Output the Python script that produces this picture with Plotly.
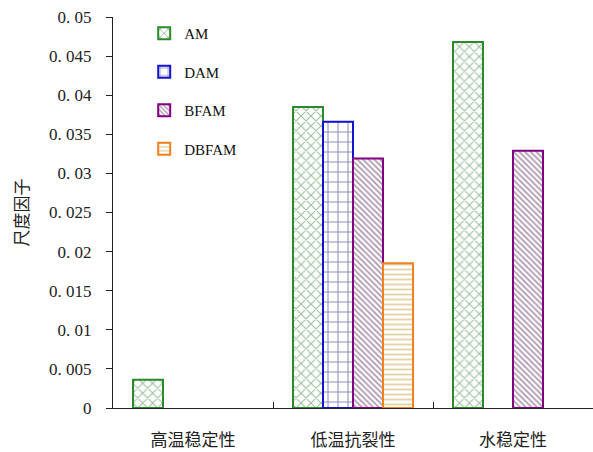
import plotly.graph_objects as go

# Scale factor by pavement performance, for each mixture
categories = ["高温稳定性", "低温抗裂性", "水稳定性"]
series_names = ["AM", "DAM", "BFAM", "DBFAM"]
am_values = [0.0036, 0.0385, 0.0468]
dam_values = [None, 0.0366, None]
bfam_values = [None, 0.0319, 0.0329]
dbfam_values = [None, 0.0185, None]

y_ticks = [0, 0.005, 0.01, 0.015, 0.02, 0.025, 0.03, 0.035, 0.04, 0.045, 0.05]
y_tick_text = ["0", "0. 005", "0. 01", "0. 015", "0. 02", "0. 025", "0. 03",
               "0. 035", "0. 04", "0. 045", "0. 05"]

styles = [
    dict(line="#2a8a2a", fg="#3f7f3f", shape="x", size=7, solidity=0.3),
    dict(line="#1414d0", fg="#1c1c88", shape="+", size=10, solidity=0.2),
    dict(line="#800080", fg="#5e2a5e", shape="\\", size=4, solidity=0.42),
    dict(line="#f08020", fg="#c8a850", shape="-", size=5, solidity=0.38),
]
values = [am_values, dam_values, bfam_values, dbfam_values]

fig = go.Figure()
for name, vals, st in zip(series_names, values, styles):
    fig.add_trace(go.Bar(
        x=categories, y=vals, name=name,
        legendgroup=name,
        marker=dict(
            color="white",
            line=dict(color=st["line"], width=2),
            pattern=dict(shape=st["shape"], fgcolor=st["fg"], bgcolor="white",
                         size=st["size"], solidity=st["solidity"], fillmode="overlay"),
        ),
    ))

fig.update_layout(
    width=593, height=452,
    margin=dict(l=113, r=0, t=17, b=44),
    paper_bgcolor="white", plot_bgcolor="white",
    barmode="group", bargap=0.25, bargroupgap=0,
    font=dict(family="Noto Sans CJK SC", color="#222222"),
    legend=dict(
        x=0.065, y=1.0, xanchor="left", yanchor="top",
        font=dict(family="Liberation Serif", size=15, color="#111111"),
        tracegroupgap=16, bgcolor="rgba(0,0,0,0)",
    ),
    showlegend=True,
)
fig.update_xaxes(
    showline=True, linecolor="#222222", linewidth=1,
    ticks="inside", tickson="boundaries", ticklen=6, tickcolor="#222222",
    tickfont=dict(family="Noto Sans CJK SC", size=17, color="#222222"),
    ticklabelstandoff=17,
    showgrid=False, zeroline=False,
)
fig.update_yaxes(
    range=[0, 0.05], tickvals=y_ticks, ticktext=y_tick_text,
    showline=True, linecolor="#222222", linewidth=1,
    ticks="outside", ticklen=6, tickcolor="#222222",
    tickfont=dict(family="Liberation Serif", size=17, color="#222222"),
    ticklabelstandoff=11,
    showgrid=False, zeroline=False,
    title=dict(text="尺度因子", font=dict(family="Noto Sans CJK SC", size=17, color="#222222"),
               standoff=16),
)

fig.write_html("out.html")
